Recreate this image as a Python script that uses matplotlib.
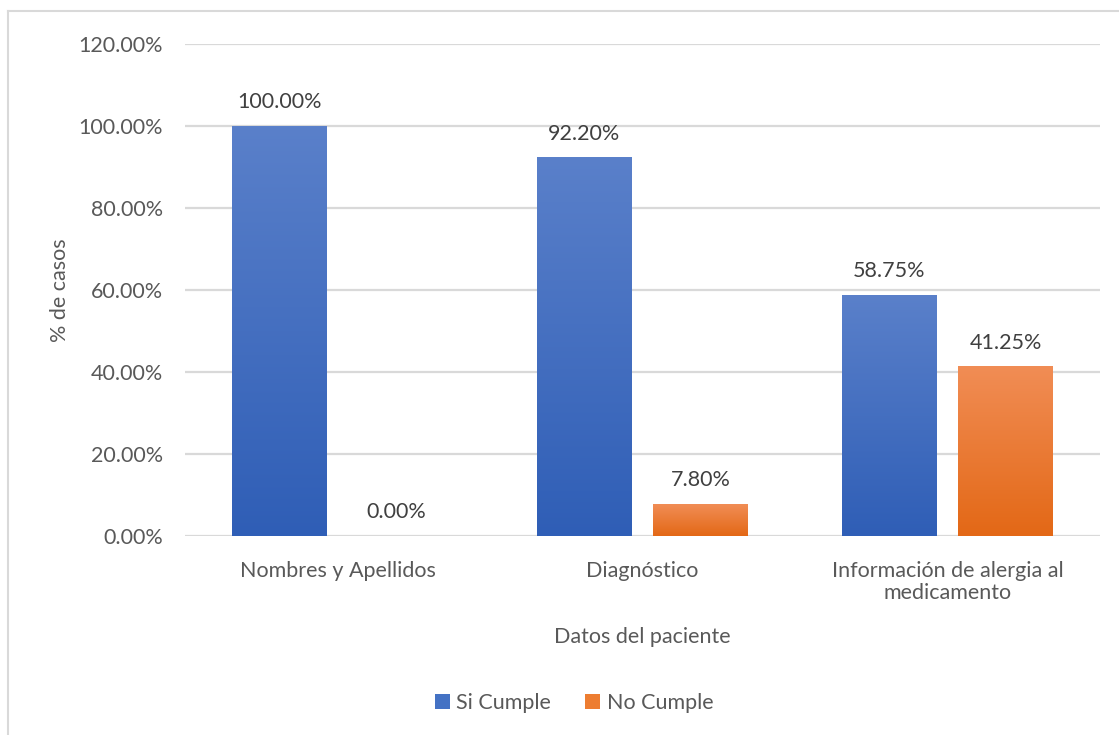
import numpy as np
import matplotlib.pyplot as plt
from matplotlib.colors import LinearSegmentedColormap
from matplotlib.lines import Line2D
from matplotlib.patches import Patch

# Datos
categorias = ['Nombres y Apellidos', 'Diagnóstico', 'Información de alergia al\nmedicamento']
si_cumple = [100.00, 92.20, 58.75]
no_cumple = [0.00, 7.80, 41.25]
ticks_y = [0, 20, 40, 60, 80, 100, 120]

plt.rcParams['font.family'] = ['Lato', 'DejaVu Sans']
gris = '#595959'
fs = 15.5

fig = plt.figure(figsize=(11.19, 7.35), dpi=100)
ax = fig.add_axes([185 / 1119, 1 - 536 / 735, 915 / 1119, 492 / 735])

# Degradados de relleno (arriba claro, abajo oscuro)
cmap_azul = LinearSegmentedColormap.from_list('azul', ['#2F5EB6', '#5A80CA'])
cmap_naranja = LinearSegmentedColormap.from_list('naranja', ['#E36816', '#F18D55'])

x = np.arange(len(categorias))
ancho = 0.311
sep = 0.072
grad = np.linspace(0, 1, 256).reshape(-1, 1)


def barra_degradado(xc, h, cmap):
    if h <= 0:
        return
    ax.imshow(grad, cmap=cmap, origin='lower', aspect='auto',
              extent=(xc - ancho / 2, xc + ancho / 2, 0, h), zorder=3)


for i in range(len(categorias)):
    xa = x[i] - (ancho + sep) / 2
    xn = x[i] + (ancho + sep) / 2
    barra_degradado(xa, si_cumple[i], cmap_azul)
    barra_degradado(xn, no_cumple[i], cmap_naranja)
    ax.text(xa, si_cumple[i] + 3.4, f'{si_cumple[i]:.2f}%', ha='center', va='bottom',
            fontsize=fs, color='#404040')
    ax.text(xn, no_cumple[i] + 3.4, f'{no_cumple[i]:.2f}%', ha='center', va='bottom',
            fontsize=fs, color='#404040')

ax.set_xlim(-0.5, len(categorias) - 0.5)
ax.set_ylim(0, 120)
ax.set_yticks(ticks_y)
ax.set_yticklabels([f'{t:.2f}%' for t in ticks_y], fontsize=fs, color=gris)
ax.set_xticks(x)
ax.set_xticklabels(categorias, fontsize=fs, color=gris, linespacing=1.15)
ax.tick_params(length=0, pad=16)
ax.tick_params(axis='x', pad=18)

ax.grid(axis='y', color='#D9D9D9', linewidth=1.6, zorder=0)
ax.set_axisbelow(True)
for s in ax.spines.values():
    s.set_visible(False)

ax.set_ylabel('% de casos', fontsize=fs, color=gris, labelpad=6)
ax.set_xlabel('Datos del paciente', fontsize=fs, color=gris, labelpad=17)

leyenda = [Patch(facecolor='#4472C4', label='Si Cumple'),
           Patch(facecolor='#ED7D31', label='No Cumple')]
fig.legend(handles=leyenda, loc='center', bbox_to_anchor=(574 / 1119, 1 - 703 / 735),
           ncol=2, frameon=False, fontsize=fs, labelcolor=gris,
           handlelength=0.7, handleheight=0.7, handletextpad=0.3, columnspacing=1.6)

# Marco del gráfico
fig.add_artist(Line2D([8 / 1119, 8 / 1119], [0, 1 - 11 / 735], color='#D9D9D9', lw=1.5))
fig.add_artist(Line2D([8 / 1119, 1], [1 - 11 / 735, 1 - 11 / 735], color='#D9D9D9', lw=1.5))

fig.savefig('out.png', dpi=100)
